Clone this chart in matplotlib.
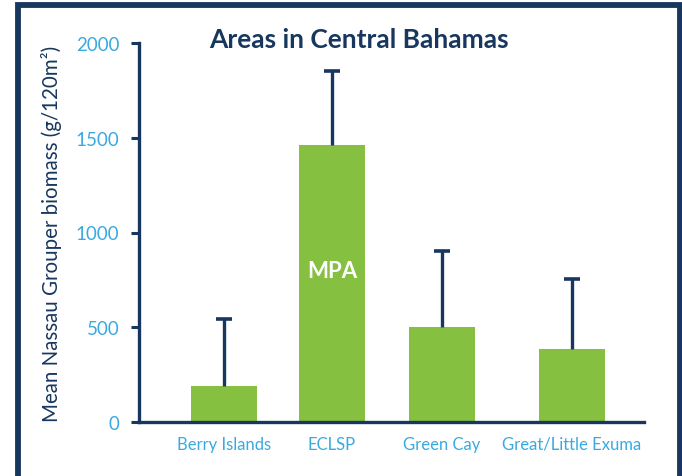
import matplotlib
matplotlib.use("Agg")
import matplotlib.pyplot as plt
import numpy as np

# data
sites   = ["Berry Islands", "ECLSP", "Green Cay", "Great/Little Exuma"]
biomass = [190, 1462, 501, 386]          # mean biomass (g/120m2)
err_up  = [355, 392, 403, 370]           # upper error (SD)
yticks  = [0, 500, 1000, 1500, 2000]

# layout (bar centres are not evenly spaced in the original)
xpos = [0, 1, 2.02, 3.22]

NAVY  = "#17375E"
GREEN = "#86C041"
BLUE  = "#3AA9E0"

plt.rcParams["font.family"] = ["Lato", "DejaVu Sans"]

fig = plt.figure(figsize=(6.82, 4.77), dpi=100)
ax = fig.add_axes([139 / 682, 1 - 423 / 477, 505 / 682, 379 / 477])

ax.bar(xpos, biomass, width=0.61, color=GREEN, zorder=2)

# upper-only error bars: stem + cap at the top
tops = np.array(biomass) + np.array(err_up)
ax.vlines(xpos, biomass, tops, color=NAVY, linewidth=2.4, zorder=3)
ax.plot(xpos, tops, linestyle="none", marker="_", markersize=12,
        markeredgewidth=2.6, color=NAVY, zorder=3)

ax.text(xpos[1], 800, "MPA", color="white", fontsize=16, fontweight="bold",
        ha="center", va="center", zorder=4)

ax.set_xlim(-0.787, 3.89)
ax.set_ylim(0, 2000)
ax.set_yticks(yticks)
ax.set_xticks(xpos)
ax.set_xticklabels(sites)

ax.tick_params(axis="y", colors=NAVY, labelcolor=BLUE, labelsize=13.5,
               length=6, width=2.2, pad=8)
ax.tick_params(axis="x", length=0, labelcolor=BLUE, labelsize=12, pad=10)

for s in ["top", "right"]:
    ax.spines[s].set_visible(False)
for s in ["left", "bottom"]:
    ax.spines[s].set_color(NAVY)
    ax.spines[s].set_linewidth(2.4)

ax.set_ylabel("Mean Nassau Grouper biomass (g/120m\u00b2)", color=NAVY, fontsize=14.8,
              labelpad=10)

fig.text(359 / 682, 1 - 40 / 477, "Areas in Central Bahamas", color=NAVY,
         fontsize=19, fontweight="bold", ha="center", va="center")

# dark frame around the slide region (open at the bottom)
fig.add_artist(plt.Line2D([17.5 / 682, 17.5 / 682, 679.5 / 682, 679.5 / 682],
                          [0, 1 - 6 / 477, 1 - 6 / 477, 0],
                          transform=fig.transFigure, color=NAVY, linewidth=4.2,
                          solid_joinstyle="miter"))

fig.savefig("out.png", dpi=100)
